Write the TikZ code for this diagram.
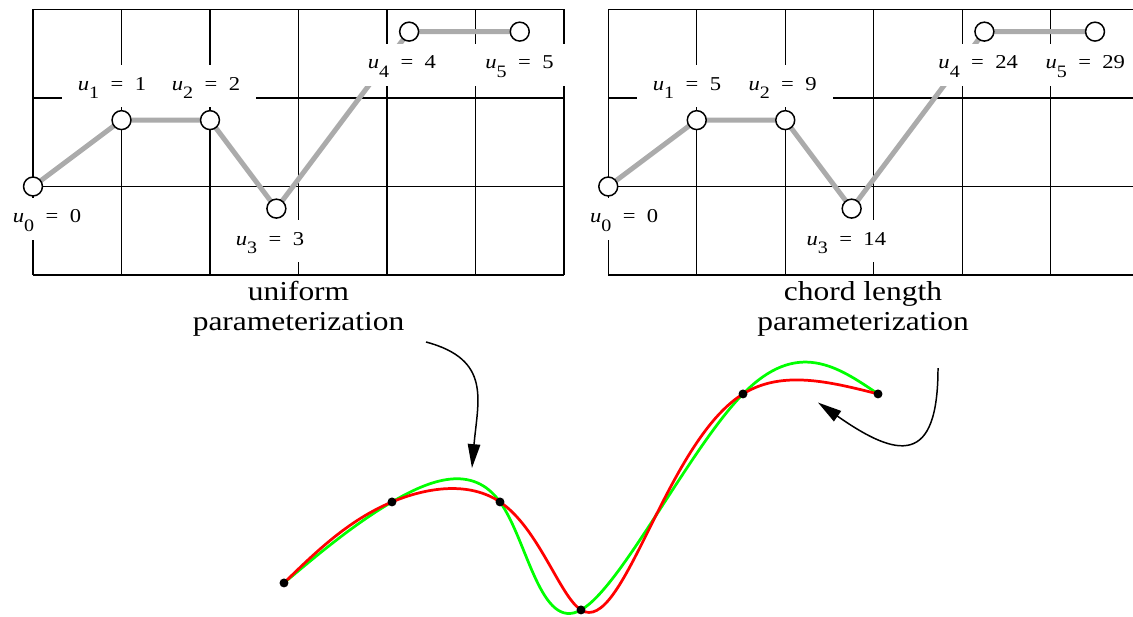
\documentclass[tikz,border=0pt]{standalone}
\usepackage{fontspec}
\setmainfont[FakeStretch=1.15]{Liberation Serif}
\usepackage{tikz}
\usetikzlibrary{arrows.meta}

\newcommand{\uval}[2]{\textit{u}\raisebox{-3.6pt}{\fontsize{7}{7}\selectfont #1}\hspace{0.58em}=\hspace{0.58em}#2}

\begin{document}
\begin{tikzpicture}[x=1.25cm, y=1.25cm,
        gridline/.style={line width=0.55pt, step=1.25cm},
        poly/.style={line width=2pt, draw=black!33},
        knot/.style={circle, draw, fill=white, line width=0.6pt, minimum size=7.6pt, inner sep=0pt},
        ulab/.style={fill=white, inner xsep=6.5pt, inner ysep=0pt, text height=10pt, text depth=6.8pt, anchor=base, font=\fontsize{7.9}{9}\selectfont},
        caption/.style={align=center, font=\fontsize{11}{12}\selectfont},
        dot/.style={circle, fill=black, minimum size=3.6pt, inner sep=0pt},
        uni/.style={draw=green, line width=1.1pt},
        chord/.style={draw=red, line width=1.1pt},
        arrow/.style={line width=0.6pt, -{Triangle[length=9.6pt, width=5pt]}}
    ]
    \useasboundingbox (-0.3729,-3.8531) rectangle (12.4294,3.1073);
    \clip (-0.3729,-3.8531) rectangle (12.4294,3.1073);

    % uniform
    \begin{scope}
        \coordinate (a0) at (0,1);
        \coordinate (a1) at (1,1.75);
        \coordinate (a2) at (2,1.75);
        \coordinate (a3) at (2.75,0.75);
        \coordinate (a4) at (4.25,2.75);
        \coordinate (a5) at (5.5,2.75);
        \draw [gridline] (0,0) grid (6,3);
        \draw [poly] (a0) -- (a1) -- (a2) -- (a3) -- (a4) -- (a5);
        \node (la0) [ulab] at (0.158,0.588) {\uval{0}{0}};
        \node (la1) [ulab] at (0.893,2.090) {\uval{1}{1}};
        \node (la2) [ulab] at (1.955,2.090) {\uval{2}{2}};
        \node (la3) [ulab] at (2.678,0.339) {\uval{3}{3}};
        \node (la4) [ulab] at (4.169,2.328) {\uval{4}{4}};
        \node (la5) [ulab] at (5.497,2.328) {\uval{5}{5}};
        \node (ka0) [knot] at (a0) {};
        \node (ka1) [knot] at (a1) {};
        \node (ka2) [knot] at (a2) {};
        \node (ka3) [knot] at (a3) {};
        \node (ka4) [knot] at (a4) {};
        \node (ka5) [knot] at (a5) {};
    \end{scope}

    % chord length
    \begin{scope}[shift={(6.5,0)}]
        \coordinate (b0) at (0,1);
        \coordinate (b1) at (1,1.75);
        \coordinate (b2) at (2,1.75);
        \coordinate (b3) at (2.75,0.75);
        \coordinate (b4) at (4.25,2.75);
        \coordinate (b5) at (5.5,2.75);
        \draw [gridline] (0,0) grid (6,3);
        \draw [poly] (b0) -- (b1) -- (b2) -- (b3) -- (b4) -- (b5);
        \node (lb0) [ulab] at (0.18,0.588) {\uval{0}{0}};
        \node (lb1) [ulab] at (0.89,2.090) {\uval{1}{5}};
        \node (lb2) [ulab] at (1.97,2.090) {\uval{2}{9}};
        \node (lb3) [ulab] at (2.69,0.339) {\uval{3}{14}};
        \node (lb4) [ulab] at (4.18,2.328) {\uval{4}{24}};
        \node (lb5) [ulab] at (5.39,2.328) {\uval{5}{29}};
        \node (kb0) [knot] at (b0) {};
        \node (kb1) [knot] at (b1) {};
        \node (kb2) [knot] at (b2) {};
        \node (kb3) [knot] at (b3) {};
        \node (kb4) [knot] at (b4) {};
        \node (kb5) [knot] at (b5) {};
    \end{scope}

    \node (unicap) [caption] at (3.0,-0.38) {uniform\\parameterization};
    \node (chordcap) [caption] at (9.379,-0.38) {chord length\\parameterization};

    % the two interpolating curves
    \begin{scope}[shift={(2.836,-4.700)}, scale=0.30508]
        \coordinate (p0) at (0,4);
        \coordinate (p1) at (4,7);
        \coordinate (p2) at (8,7);
        \coordinate (p3) at (11,3);
        \coordinate (p4) at (17,11);
        \coordinate (p5) at (22,11);
        \draw [uni] (p0) .. controls (1.2887,5.0829) and (2.5774,6.1659) .. (p1)
            .. controls (5.4226,7.8341) and (6.9793,8.4195) .. (p2)
            .. controls (9.0207,5.5805) and (9.5056,2.1563) .. (p3)
            .. controls (12.4944,3.8437) and (14.9984,8.9553) .. (p4)
            .. controls (19.0016,13.0447) and (20.5008,12.0223) .. (p5);
        \draw [chord] (p0) .. controls (1.1927,5.1614) and (2.3854,6.3227) .. (p1)
            .. controls (5.2917,7.5418) and (6.8533,7.7738) .. (p2)
            .. controls (9.4334,6.0328) and (10.2184,3.4941) .. (p3)
            .. controls (12.5632,2.0119) and (14.1126,9.2024) .. (p4)
            .. controls (18.4437,11.8988) and (20.2218,11.4494) .. (p5);
        \node (d0) [dot] at (p0) {};
        \node (d1) [dot] at (p1) {};
        \node (d2) [dot] at (p2) {};
        \node (d3) [dot] at (p3) {};
        \node (d4) [dot] at (p4) {};
        \node (d5) [dot] at (p5) {};
    \end{scope}

    \coordinate (unitail) at (4.441,-0.757);
    \coordinate (unitip) at (4.960,-2.181);
    \coordinate (chordtail) at (10.226,-1.051);
    \coordinate (chordtip) at (8.870,-1.441);
    \draw [arrow] (unitail) to[out=-15, in=85, looseness=1.3] (unitip);
    \draw [arrow] (chordtail) to[out=-90, in=-35, looseness=2] (chordtip);
\end{tikzpicture}
\end{document}
